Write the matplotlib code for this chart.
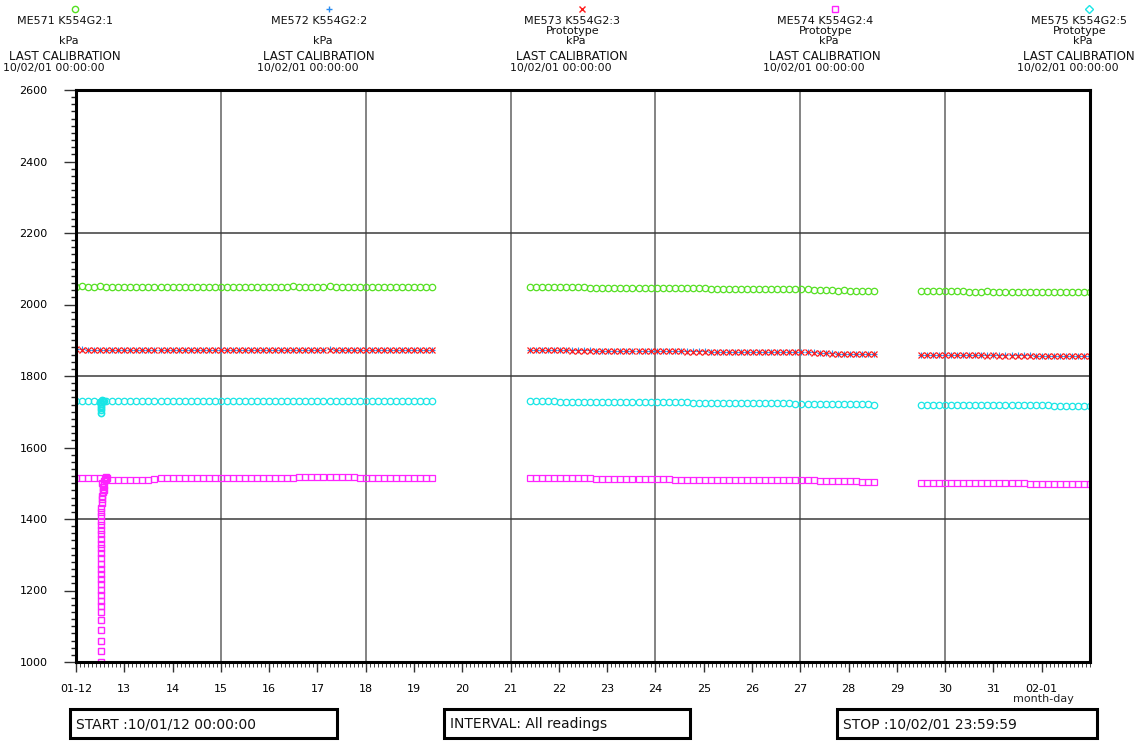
import numpy as np
import matplotlib
matplotlib.use("Agg")
import matplotlib.pyplot as plt
from matplotlib.lines import Line2D
from matplotlib.patches import Rectangle
from matplotlib.ticker import MultipleLocator, FixedLocator

# ---------------- data ----------------
series_names = ["ME571 K554G2:1", "ME572 K554G2:2", "ME573 K554G2:3",
                "ME574 K554G2:4", "ME575 K554G2:5"]
series_sub = ["", "", "Prototype", "Prototype", "Prototype"]
unit = "kPa"
calib_label = "LAST CALIBRATION"
calib_date = "10/02/01 00:00:00"

# reading segments (day of January, 3-hour readings)
seg_start = [12.0, 21.4, 29.5]
seg_count = [60, 58, 29]
read_interval_days = 0.125

green_1 = [2050, 2051, 2050, 2050, 2051, 2050, 2050, 2049,
           2050, 2050, 2050, 2049, 2050, 2050, 2050, 2050,
           2050, 2050, 2049, 2050, 2050, 2050, 2050, 2050,
           2050, 2049, 2050, 2050, 2050, 2050, 2049, 2050,
           2050, 2050, 2050, 2050, 2051, 2050, 2050, 2050,
           2050, 2050, 2051, 2050, 2050, 2050, 2049, 2050,
           2049, 2050, 2050, 2049, 2050, 2050, 2049, 2049,
           2049, 2049, 2050, 2049]
green_2 = [2049, 2049, 2049, 2048, 2048, 2048, 2049, 2048,
           2048, 2048, 2047, 2047, 2047, 2047, 2047, 2047,
           2047, 2046, 2046, 2046, 2046, 2046, 2046, 2045,
           2045, 2045, 2045, 2045, 2045, 2045, 2044, 2044,
           2044, 2044, 2044, 2044, 2043, 2044, 2043, 2043,
           2043, 2043, 2043, 2043, 2042, 2043, 2042, 2041,
           2041, 2040, 2040, 2039, 2040, 2039, 2039, 2039,
           2039, 2039]
green_3 = [2038, 2038, 2037, 2037, 2037, 2038, 2037, 2037,
           2036, 2036, 2036, 2037, 2036, 2036, 2036, 2036,
           2035, 2036, 2035, 2035, 2036, 2035, 2035, 2035,
           2035, 2035, 2034, 2035, 2035]

blue_1 = [1875, 1875, 1874, 1874, 1873, 1873, 1873, 1873,
          1873, 1873, 1873, 1873, 1873, 1873, 1873, 1873,
          1873, 1873, 1872, 1873, 1873, 1873, 1873, 1873,
          1873, 1873, 1873, 1873, 1873, 1872, 1873, 1873,
          1873, 1873, 1873, 1873, 1874, 1874, 1874, 1874,
          1874, 1874, 1875, 1874, 1874, 1874, 1873, 1873,
          1873, 1873, 1873, 1873, 1873, 1873, 1873, 1873,
          1873, 1873, 1873, 1873]
blue_2 = [1874, 1873, 1873, 1873, 1873, 1872, 1872, 1872,
          1872, 1872, 1872, 1871, 1871, 1871, 1871, 1871,
          1870, 1870, 1870, 1870, 1870, 1870, 1870, 1869,
          1869, 1869, 1869, 1869, 1869, 1869, 1868, 1868,
          1868, 1868, 1868, 1868, 1868, 1868, 1867, 1867,
          1867, 1867, 1867, 1867, 1866, 1866, 1866, 1866,
          1865, 1864, 1863, 1862, 1862, 1862, 1862, 1862,
          1862, 1862]
blue_3 = [1860, 1860, 1859, 1859, 1859, 1859, 1859, 1859,
          1859, 1858, 1858, 1858, 1858, 1858, 1858, 1858,
          1858, 1858, 1858, 1857, 1857, 1857, 1857, 1857,
          1857, 1857, 1857, 1856, 1856]

red_1 = [1875, 1874, 1874, 1873, 1873, 1873, 1872, 1872,
         1872, 1873, 1872, 1872, 1872, 1873, 1872, 1872,
         1872, 1872, 1872, 1872, 1872, 1872, 1872, 1872,
         1872, 1872, 1872, 1873, 1872, 1872, 1872, 1872,
         1872, 1873, 1872, 1873, 1873, 1873, 1873, 1873,
         1873, 1874, 1874, 1874, 1873, 1873, 1873, 1873,
         1872, 1872, 1872, 1873, 1872, 1872, 1872, 1872,
         1872, 1872, 1872, 1872]
red_2 = [1873, 1873, 1872, 1872, 1872, 1872, 1872, 1871,
         1871, 1871, 1871, 1871, 1871, 1870, 1870, 1870,
         1870, 1870, 1870, 1870, 1869, 1869, 1869, 1869,
         1869, 1869, 1868, 1868, 1868, 1868, 1868, 1868,
         1868, 1868, 1868, 1867, 1867, 1867, 1867, 1867,
         1867, 1867, 1866, 1866, 1866, 1866, 1866, 1865,
         1864, 1863, 1862, 1861, 1861, 1861, 1861, 1861,
         1861, 1861]
red_3 = [1859, 1859, 1859, 1858, 1858, 1858, 1858, 1858,
         1858, 1858, 1858, 1857, 1858, 1857, 1857, 1857,
         1857, 1857, 1857, 1857, 1857, 1856, 1856, 1856,
         1856, 1856, 1856, 1856, 1856]

magenta_1 = [1516, 1516, 1516, 1516, 1515, 1510, 1509, 1509,
             1509, 1509, 1509, 1509, 1510, 1512, 1514, 1514,
             1514, 1514, 1514, 1514, 1515, 1515, 1515, 1515,
             1515, 1515, 1515, 1515, 1515, 1515, 1515, 1516,
             1516, 1516, 1516, 1516, 1516, 1517, 1517, 1517,
             1518, 1518, 1518, 1518, 1517, 1517, 1517, 1516,
             1516, 1516, 1516, 1516, 1516, 1516, 1516, 1516,
             1516, 1516, 1516, 1516]
magenta_2 = [1516, 1516, 1516, 1515, 1515, 1515, 1515, 1514,
             1514, 1514, 1514, 1513, 1513, 1513, 1512, 1512,
             1512, 1512, 1511, 1511, 1511, 1511, 1511, 1511,
             1510, 1510, 1510, 1510, 1510, 1510, 1510, 1510,
             1510, 1510, 1510, 1510, 1510, 1510, 1509, 1509,
             1509, 1509, 1509, 1509, 1508, 1508, 1508, 1508,
             1507, 1507, 1506, 1506, 1505, 1505, 1505, 1504,
             1504, 1503]
magenta_3 = [1501, 1501, 1501, 1501, 1501, 1501, 1501, 1501,
             1501, 1501, 1500, 1500, 1500, 1500, 1500, 1500,
             1500, 1500, 1499, 1499, 1499, 1499, 1499, 1499,
             1499, 1498, 1498, 1498, 1498]

cyan_1 = [1729, 1729, 1729, 1729, 1728, 1729, 1729, 1729,
          1729, 1729, 1729, 1729, 1730, 1730, 1729, 1729,
          1729, 1729, 1729, 1729, 1729, 1729, 1729, 1729,
          1729, 1729, 1729, 1729, 1729, 1729, 1729, 1729,
          1729, 1729, 1729, 1729, 1730, 1730, 1730, 1730,
          1730, 1730, 1730, 1729, 1729, 1729, 1729, 1729,
          1729, 1729, 1729, 1729, 1729, 1729, 1729, 1729,
          1729, 1729, 1729, 1729]
cyan_2 = [1729, 1729, 1729, 1729, 1729, 1728, 1728, 1728,
          1728, 1728, 1728, 1728, 1727, 1727, 1727, 1727,
          1727, 1727, 1727, 1726, 1726, 1726, 1726, 1726,
          1726, 1726, 1726, 1725, 1725, 1725, 1725, 1725,
          1725, 1725, 1725, 1725, 1725, 1725, 1724, 1724,
          1724, 1724, 1724, 1724, 1723, 1723, 1723, 1723,
          1722, 1722, 1722, 1722, 1721, 1721, 1721, 1721,
          1721, 1720]
cyan_3 = [1719, 1719, 1719, 1719, 1719, 1719, 1719, 1719,
          1719, 1718, 1718, 1718, 1718, 1718, 1718, 1718,
          1718, 1718, 1718, 1718, 1718, 1718, 1717, 1717,
          1717, 1717, 1717, 1717, 1717]

# transient readings around 12 Jan 12:00
magenta_tr_t = [12.52, 12.52, 12.52, 12.52, 12.52, 12.52, 12.52, 12.52,
                12.52, 12.52, 12.52, 12.52, 12.52, 12.52, 12.52, 12.52,
                12.52, 12.52, 12.52, 12.52, 12.52, 12.52, 12.52, 12.52,
                12.52, 12.52, 12.52, 12.53, 12.53, 12.54, 12.55, 12.56,
                12.57, 12.58, 12.60, 12.62, 12.64, 12.53, 12.55, 12.57]
magenta_tr_v = [1000, 1030, 1058, 1090, 1118, 1140, 1158, 1172,
                1188, 1202, 1218, 1232, 1246, 1260, 1275, 1290,
                1305, 1318, 1330, 1345, 1358, 1370, 1382, 1395,
                1408, 1420, 1432, 1445, 1455, 1465, 1475, 1485,
                1495, 1505, 1512, 1518, 1515, 1500, 1490, 1480]
cyan_tr_t = [12.50, 12.51, 12.52, 12.52, 12.52, 12.52, 12.52, 12.53, 12.55, 12.57]
cyan_tr_v = [1728, 1726, 1722, 1716, 1710, 1704, 1697, 1733, 1731, 1730]

x_tick_days = [12, 13, 14, 15, 16, 17, 18, 19, 20, 21, 22, 23, 24, 25, 26,
               27, 28, 29, 30, 31, 32]
x_tick_labels = ["01-12", "13", "14", "15", "16", "17", "18", "19", "20",
                 "21", "22", "23", "24", "25", "26", "27", "28", "29", "30",
                 "31", "02-01"]
vgrid_days = [15, 18, 21, 24, 27, 30]
hgrid_vals = [1400, 1800, 2200]

start_text = "START :10/01/12 00:00:00"
interval_text = "INTERVAL: All readings"
stop_text = "STOP :10/02/01 23:59:59"

# ---------------- styles ----------------
W, H = 1144, 742
colors = ["#55e022", "#2a8cf0", "#ff1a1a", "#ff22ff", "#19e6e6"]
markers = ["o", "+", "x", "s", "D"]

plt.rcParams["font.family"] = ["DejaVu Sans"]
fig = plt.figure(figsize=(W / 100, H / 100), dpi=100)
L, R, T, B = 76, 1090, 90, 662
ax = fig.add_axes([L / W, 1 - B / H, (R - L) / W, (B - T) / H])


def seg_times(i):
    return seg_start[i] + read_interval_days * np.arange(seg_count[i])


def plot_series(segs, color, marker, ms, mew, z):
    for i, vals in enumerate(segs):
        ax.plot(seg_times(i), vals, linestyle="none", marker=marker,
                markersize=ms, markerfacecolor="none", markeredgecolor=color,
                markeredgewidth=mew, zorder=z, clip_on=True)


for d in vgrid_days:
    ax.axvline(d, color="#6e6e6e", lw=1.2, zorder=1)
for v in hgrid_vals:
    ax.axhline(v, color="#3a3a3a", lw=1.1, zorder=1)

plot_series([blue_1, blue_2, blue_3], colors[1], "+", 5.0, 0.8, 3)
plot_series([red_1, red_2, red_3], colors[2], "x", 3.8, 0.9, 4)
plot_series([green_1, green_2, green_3], colors[0], "o", 4.6, 0.9, 4)
plot_series([cyan_1, cyan_2, cyan_3], colors[4], "o", 4.6, 0.9, 4)
plot_series([magenta_1, magenta_2, magenta_3], colors[3], "s", 4.4, 0.9, 4)
ax.plot(magenta_tr_t, magenta_tr_v, linestyle="none", marker="s",
        markersize=4.2, markerfacecolor="none", markeredgecolor=colors[3],
        markeredgewidth=1.0, zorder=4)
ax.plot(cyan_tr_t, cyan_tr_v, linestyle="none", marker="o",
        markersize=4.4, markerfacecolor="none", markeredgecolor=colors[4],
        markeredgewidth=1.2, zorder=4)

ax.set_xlim(12, 33)
ax.set_ylim(1000, 2600)
ax.xaxis.set_major_locator(FixedLocator(x_tick_days))
ax.set_xticklabels(x_tick_labels)
ax.xaxis.set_minor_locator(MultipleLocator(1 / 12))
ax.yaxis.set_major_locator(MultipleLocator(200))
ax.yaxis.set_minor_locator(MultipleLocator(20))
ax.tick_params(axis="x", which="major", direction="out", length=7.5,
               width=1.0, pad=8, labelsize=8, color="#333333")
ax.tick_params(axis="x", which="minor", direction="out", length=3.5,
               width=0.7, color="#444444")
ax.tick_params(axis="y", which="major", direction="out", length=8.5,
               width=1.0, pad=12, labelsize=8, color="#333333")
ax.tick_params(axis="y", which="minor", direction="out", length=3.5,
               width=1.0, color="#222222")
for s in ax.spines.values():
    s.set_linewidth(2.2)
    s.set_color("black")
    s.set_zorder(6)

fig.text(1043 / W, 1 - 699 / H, "month-day", ha="center", va="center",
         fontsize=8, color="#222222")

# ---------------- header ----------------
centers = [65, 319, 572, 825, 1079]
for k in range(5):
    cx = centers[k]
    fig.add_artist(Line2D([(cx + 10) / W], [1 - 9 / H], marker=markers[k],
                          markersize=4.5, markerfacecolor="none",
                          markeredgecolor=colors[k], markeredgewidth=1.0,
                          linestyle="none", transform=fig.transFigure))
    fig.text(cx / W, 1 - 20.5 / H, series_names[k], ha="center",
             va="center", fontsize=8, color="#111111")
    if series_sub[k]:
        fig.text((cx + 1) / W, 1 - 31 / H, series_sub[k], ha="center",
                 va="center", fontsize=8, color="#111111")
    fig.text((cx + 4) / W, 1 - 41.5 / H, unit, ha="center", va="center",
             fontsize=8, color="#111111")
    fig.text(cx / W, 1 - 57 / H, calib_label, ha="center", va="center",
             fontsize=8.6, color="#111111")
    fig.text((cx - 11) / W, 1 - 67.5 / H, calib_date, ha="center",
             va="center", fontsize=7.8, color="#111111")

# ---------------- footer boxes ----------------
boxes = [(70, 337, start_text), (444, 690, interval_text),
         (837, 1097, stop_text)]
for x0, x1, txt in boxes:
    fig.add_artist(Rectangle((x0 / W, 1 - 738 / H), (x1 - x0) / W,
                             29 / H, transform=fig.transFigure,
                             fill=False, edgecolor="black", linewidth=2.2))
    fig.text((x0 + 6) / W, 1 - 724 / H, txt, ha="left", va="center",
             fontsize=10, color="#111111")

fig.savefig("out.png", dpi=100)
